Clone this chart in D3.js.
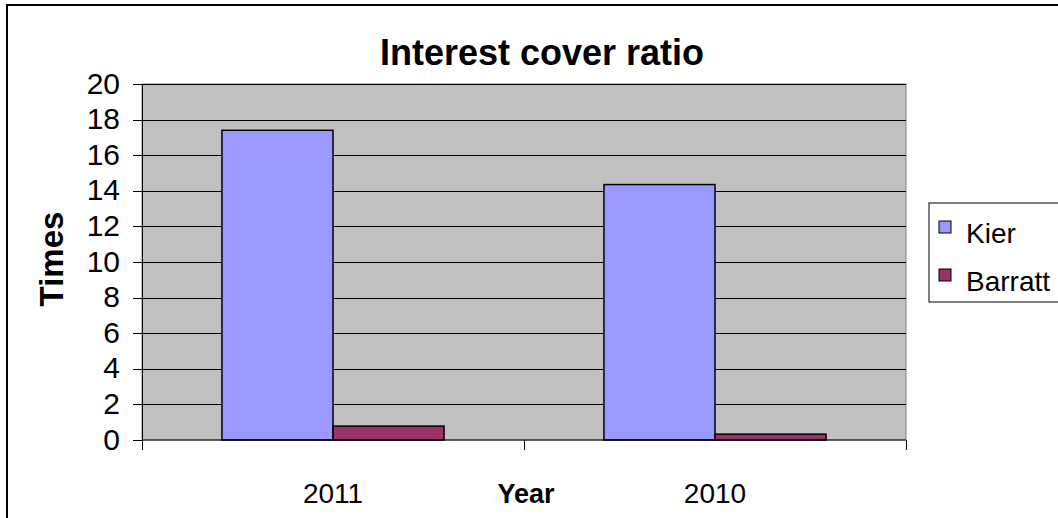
<!DOCTYPE html>
<html>
<head>
<meta charset="utf-8">
<script src="https://cdn.jsdelivr.net/npm/d3@7"></script>
<style>
  body { margin: 0; background: #fff; overflow: hidden; }
  text { font-family: "Liberation Sans", Arial, sans-serif; fill: #000; }
</style>
</head>
<body>
<div id="chart"></div>
<script>
var width = 1058;
var height = 518;

// data
var years = ['2011', '2010'];
var seriesNames = ['Kier', 'Barratt'];
var kier = [17.4, 14.35];
var barratt = [0.78, 0.33];
var yTicks = [0, 2, 4, 6, 8, 10, 12, 14, 16, 18, 20];

var colors = { Kier: '#9999ff', Barratt: '#993366' };

var plot = { left: 142, top: 84, right: 906, bottom: 440 };

var svg = d3.select('#chart').append('svg')
    .attr('width', width)
    .attr('height', height);

// outer chart frame (runs off the right/bottom of the window)
svg.append('rect')
    .attr('x', 7)
    .attr('y', 5)
    .attr('width', 1200)
    .attr('height', 700)
    .attr('fill', '#fff')
    .attr('stroke', '#000')
    .attr('stroke-width', 2);

var xScale = d3.scaleBand()
    .domain(years)
    .range([plot.left, plot.right])
    .padding(0);

var xSub = d3.scaleBand()
    .domain(seriesNames)
    .range([0, xScale.bandwidth()])
    .paddingInner(0)
    .paddingOuter(0.72);

var yScale = d3.scaleLinear()
    .domain([0, 20])
    .range([plot.bottom, plot.top]);

// plot background
svg.append('rect')
    .attr('x', plot.left)
    .attr('y', plot.top)
    .attr('width', plot.right - plot.left)
    .attr('height', plot.bottom - plot.top)
    .attr('fill', '#c0c0c0')
    .attr('stroke', '#808080')
    .attr('stroke-width', 1);

// gridlines
svg.append('g')
    .attr('transform', `translate(${plot.left}, 0)`)
    .call(d3.axisLeft(yScale).tickValues(yTicks.slice(1)).tickSize(-(plot.right - plot.left)).tickFormat(''))
    .call(g => g.select('.domain').remove())
    .call(g => g.selectAll('line').attr('stroke', '#000').attr('shape-rendering', 'crispEdges'));

// bars
var rows = years.map((y, i) => ({ year: y, Kier: kier[i], Barratt: barratt[i] }));

var groups = svg.append('g').selectAll('g')
    .data(rows)
    .enter()
    .append('g')
    .attr('transform', d => `translate(${xScale(d.year)}, 0)`);

groups.selectAll('rect')
    .data(d => seriesNames.map(s => ({ key: s, value: d[s] })))
    .enter()
    .append('rect')
    .attr('x', d => xSub(d.key))
    .attr('y', d => yScale(d.value))
    .attr('width', xSub.bandwidth())
    .attr('height', d => yScale(0) - yScale(d.value))
    .attr('fill', d => colors[d.key])
    .attr('stroke', '#000')
    .attr('stroke-width', 1.5);

// y axis
var yAxis_g = svg.append('g')
    .attr('transform', `translate(${plot.left}, 0)`)
    .call(d3.axisLeft(yScale).tickValues(yTicks).tickSize(9).tickPadding(13));

yAxis_g.select('.domain').attr('stroke', '#000');
yAxis_g.selectAll('line').attr('stroke', '#000').attr('shape-rendering', 'crispEdges');
yAxis_g.selectAll('text')
    .attr('dy', '0.3em')
    .style('font-size', '30px')
    .style('font-family', '"Liberation Sans", Arial, sans-serif');

// x axis
var xAxis_g = svg.append('g')
    .attr('transform', `translate(0, ${plot.bottom})`)
    .call(d3.axisBottom(xScale).tickSize(0).tickPadding(43));

xAxis_g.select('.domain').attr('stroke', '#000').attr('d', `M${plot.left},0H${plot.right}`);
xAxis_g.selectAll('text')
    .style('font-size', '28px')
    .style('font-family', '"Liberation Sans", Arial, sans-serif');

// category boundary ticks
svg.append('g').selectAll('line')
    .data(years.map(y => xScale(y)).concat([plot.right]))
    .enter()
    .append('line')
    .attr('x1', d => d)
    .attr('x2', d => d)
    .attr('y1', plot.bottom)
    .attr('y2', plot.bottom + 10)
    .attr('stroke', '#000')
    .attr('shape-rendering', 'crispEdges');

// title
svg.append('text')
    .attr('x', 542)
    .attr('y', 65)
    .attr('text-anchor', 'middle')
    .style('font-size', '36px')
    .style('font-weight', 'bold')
    .text('Interest cover ratio');

// axis titles
svg.append('text')
    .attr('x', 526)
    .attr('y', 503)
    .attr('text-anchor', 'middle')
    .style('font-size', '27px')
    .style('font-weight', 'bold')
    .text('Year');

svg.append('text')
    .attr('transform', 'translate(63, 259) rotate(-90)')
    .attr('text-anchor', 'middle')
    .style('font-size', '33px')
    .style('font-weight', 'bold')
    .text('Times');

// legend
var legend = svg.append('g');

legend.append('rect')
    .attr('x', 929)
    .attr('y', 203)
    .attr('width', 200)
    .attr('height', 99)
    .attr('fill', '#fff')
    .attr('stroke', '#000')
    .attr('stroke-width', 1);

var legendItems = legend.selectAll('g.item')
    .data(seriesNames)
    .enter()
    .append('g')
    .attr('class', 'item')
    .attr('transform', (d, i) => `translate(939, ${221 + i * 48})`);

legendItems.append('rect')
    .attr('width', 12)
    .attr('height', 12)
    .attr('fill', d => colors[d])
    .attr('stroke', '#000')
    .attr('stroke-width', 1);

legendItems.append('text')
    .attr('x', 27)
    .attr('y', 22)
    .style('font-size', '28px')
    .text(d => d);
</script>
</body>
</html>
